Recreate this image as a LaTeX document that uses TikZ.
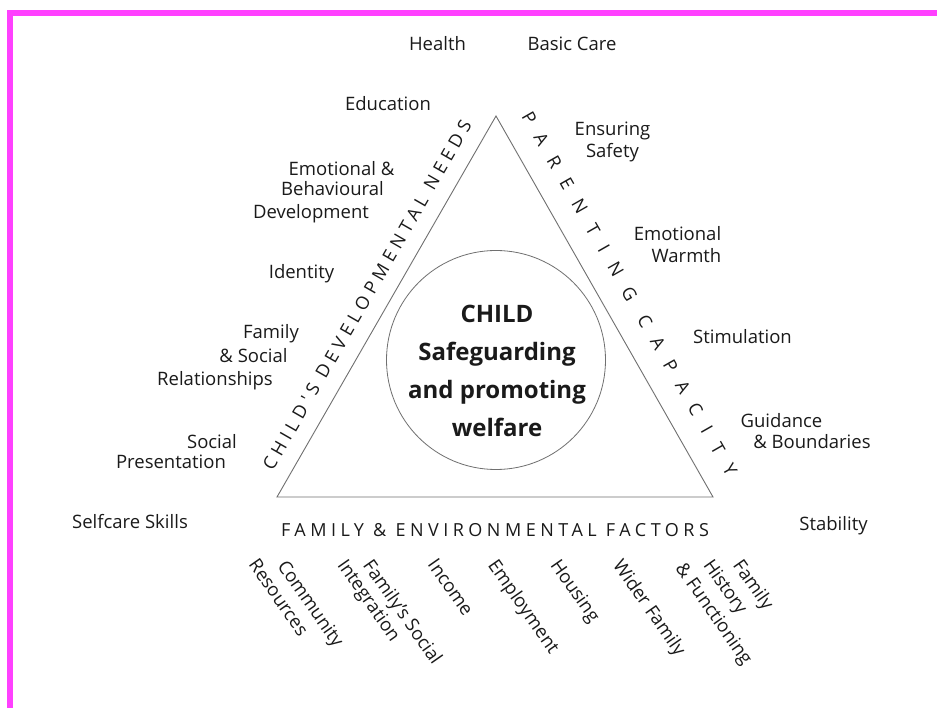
\documentclass[tikz,border=0pt]{standalone}
\usepackage{fontspec}
\setmainfont{Open Sans}
\newfontfamily\sideA[LetterSpace=28]{Open Sans}
\newfontfamily\sideB[LetterSpace=81]{Open Sans}
\newfontfamily\sideC[LetterSpace=25]{Open Sans}
\definecolor{ink}{HTML}{1A1A1A}
\definecolor{frame}{HTML}{FF40FF}
\definecolor{edge}{HTML}{707070}
\begin{document}
\begin{tikzpicture}[x=1pt,y=-1pt,
  lbl/.style={inner sep=0pt, anchor=base, text=ink, font=\fontsize{18.5}{21.5}\selectfont},
  rot/.style={inner sep=0pt, anchor=north west, rotate=-55, text=ink, font=\fontsize{18.5}{21.5}\selectfont},
  hubtext/.style={inner sep=0pt, anchor=base, text=ink, font=\fontsize{24}{30}\selectfont\bfseries},
  sidetext/.style={inner sep=0pt, anchor=base, text=ink}]
\useasboundingbox (0,0) rectangle (938,708);
\fill[white] (0,0) rectangle (938,708);
% page frame
\fill[frame] (7,10) rectangle (12.7,708);
\fill[frame] (7,10) rectangle (937,16);

% triangle and central circle
\coordinate (apex) at (496,116);
\coordinate (bl) at (277,497);
\coordinate (br) at (713,497);
\draw[edge, line width=0.9pt] (apex) -- (br) -- (bl) -- cycle;
\node[draw=edge, line width=0.8pt, circle, minimum size=219pt, inner sep=0pt] (hub) at (496,360) {};

\node[hubtext] (h1) at (497,323) {CHILD};
\node[hubtext] (h2) at (497,361) {Safeguarding};
\node[hubtext] (h3) at (497,399) {and promoting};
\node[hubtext] (h4) at (497,437) {welfare};

% side headings
\node[sidetext, rotate=60.1, font=\fontsize{18}{18}\sideA] (needs) at (372.6,298.5) {CHILD'S DEVELOPMENTAL NEEDS};
\node[sidetext, rotate=-60.33, font=\fontsize{18}{18}\sideB] (parent) at (624,297) {PARENTING CAPACITY};
\node[sidetext, font=\fontsize{18}{18}\sideC] (env) at (495,537) {FAMILY \& ENVIRONMENTAL FACTORS};

% child's developmental needs
\node[lbl] (health) at (437.5,51) {Health};
\node[lbl] (edu) at (388,111) {Education};
\node[lbl] (emo1) at (341.5,176) {Emotional \&};
\node[lbl] (emo2) at (332.5,196) {Behavioural};
\node[lbl] (emo3) at (311,219) {Development};
\node[lbl] (ident) at (301.5,279) {Identity};
\node[lbl] (rel1) at (271,339) {Family};
\node[lbl] (rel2) at (253.5,363) {\& Social};
\node[lbl] (rel3) at (215,386) {Relationships};
\node[lbl] (pres1) at (212,449) {Social};
\node[lbl] (pres2) at (171,469) {Presentation};
\node[lbl] (self) at (130,529) {Selfcare Skills};

% parenting capacity
\node[lbl] (care) at (572,51) {Basic Care};
\node[lbl] (safe1) at (612.5,136) {Ensuring};
\node[lbl] (safe2) at (612.5,158) {Safety};
\node[lbl] (warm1) at (677.5,241) {Emotional};
\node[lbl] (warm2) at (686.5,263) {Warmth};
\node[lbl] (stim) at (742.5,344) {Stimulation};
\node[lbl] (guide1) at (781.5,428) {Guidance};
\node[lbl] (guide2) at (812,449) {\& Boundaries};
\node[lbl] (stab) at (833.5,531) {Stability};

% family and environmental factors
\node[rot] (com1) at (288,558) {Community};
\node[rot] (com2) at (259,557) {Resources};
\node[rot] (soc1) at (374,557) {Family's Social};
\node[rot] (soc2) at (348,557) {Integration};
\node[rot] (inc) at (438,557) {Income};
\node[rot] (emp) at (499,557) {Employment};
\node[rot] (hou) at (561,557) {Housing};
\node[rot] (wid) at (624,557) {Wider Family};
\node[rot] (his1) at (744,557) {Family};
\node[rot] (his2) at (714,557) {History};
\node[rot] (his3) at (686,560) {\& Functioning};
\end{tikzpicture}
\end{document}
